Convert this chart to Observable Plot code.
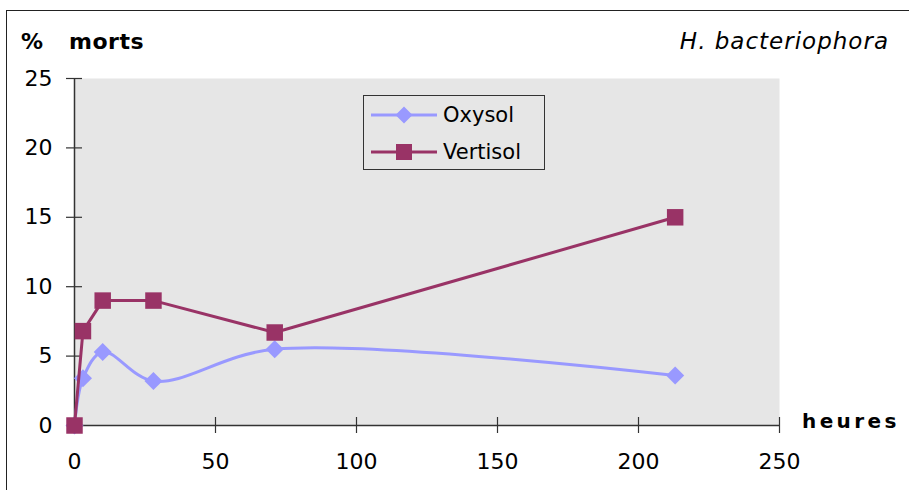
<!DOCTYPE html>
<html>
<head>
<meta charset="utf-8">
<script src="https://cdn.jsdelivr.net/npm/d3@7"></script>
<script src="https://cdn.jsdelivr.net/npm/@observablehq/plot@0.6"></script>
<style>
  html, body { margin: 0; padding: 0; background: #fff; }
  #wrap { position: relative; width: 909px; height: 490px; overflow: hidden; font-family: "DejaVu Sans", sans-serif; color: #000; }
  #border { position: absolute; left: 6px; top: 10px; width: 920px; height: 500px; border-top: 1.5px solid #222; border-left: 1.5px solid #222; box-sizing: border-box; }
  #chart { position: absolute; left: 0; top: 0; }
  .lbl { position: absolute; white-space: pre; line-height: 1; }
  #legend { position: absolute; left: 363px; top: 95px; width: 182px; height: 75px; border: 1px solid #333; box-sizing: border-box; }
  .row { position: absolute; left: 7px; height: 24px; display: flex; align-items: center; font-size: 21px; }
  .row svg { margin-right: 6px; }
</style>
</head>
<body>
<div id="wrap">
  <div id="border"></div>
  <div id="chart"></div>
  <div class="lbl" style="left:21px; top:31px; font-size:22px; font-weight:bold;">%</div>
  <div class="lbl" style="left:69px; top:31px; font-size:22px; font-weight:bold; letter-spacing:0.5px;">morts</div>
  <div class="lbl" style="right:20px; top:30px; font-size:23px; font-style:italic; letter-spacing:1px;">H. bacteriophora</div>
  <div class="lbl" style="left:802px; top:411px; font-size:20px; font-weight:bold; letter-spacing:3.4px;">heures</div>
  <div id="legend"></div>
</div>
<script>
const heures = [0, 3, 10, 28, 71, 213];
const oxysol = [0, 3.4, 5.3, 3.2, 5.5, 3.6];
const vertisol = [0, 6.8, 9, 9, 6.7, 15];
const xTicks = [0, 50, 100, 150, 200, 250];
const yTicks = [0, 5, 10, 15, 20, 25];
const seriesNames = ["Oxysol", "Vertisol"];
const colors = ["#9999ff", "#993366"];

const oxyData = heures.map((h, i) => ({h, v: oxysol[i]}));
const vertData = heures.map((h, i) => ({h, v: vertisol[i]}));

const diamond = {
  draw(ctx, size) {
    const h = Math.sqrt(size / Math.PI) * 0.95;
    ctx.moveTo(0, -h); ctx.lineTo(h, 0); ctx.lineTo(0, h); ctx.lineTo(-h, 0); ctx.closePath();
  }
};

const W = 909, H = 490, mL = 74, mR = 130, mT = 78, mB = 65;
const pw = W - mL - mR, ph = H - mT - mB;

const chart = Plot.plot({
  width: W, height: H,
  marginLeft: mL, marginRight: mR, marginTop: mT, marginBottom: mB,
  style: {fontSize: "22px", fontFamily: "DejaVu Sans, sans-serif", background: "transparent", color: "#000", overflow: "visible"},
  x: {domain: [0, 250], ticks: xTicks},
  y: {domain: [0, 25], ticks: yTicks},
  marks: [
    Plot.frame({fill: "#e6e6e6", stroke: null}),
    Plot.axisX({ticks: xTicks, tickSize: 0, tickPadding: 28, label: null}),
    Plot.axisY({ticks: yTicks, tickSize: 0, tickPadding: 22, label: null}),
    Plot.tickY(yTicks, {y: d => d, insetLeft: -8, insetRight: pw - 8, stroke: "#333", strokeWidth: 1.2}),
    Plot.tickX(xTicks, {x: d => d, insetTop: ph - 8, insetBottom: -8, stroke: "#333", strokeWidth: 1.2}),
    Plot.ruleX([0], {stroke: "#333", strokeWidth: 1.5}),
    Plot.ruleY([0], {stroke: "#333", strokeWidth: 1.5}),
    Plot.line(oxyData, {x: "h", y: "v", stroke: colors[0], strokeWidth: 3, curve: "catmull-rom"}),
    Plot.dot(oxyData, {x: "h", y: "v", fill: colors[0], symbol: diamond, r: 9.5}),
    Plot.line(vertData, {x: "h", y: "v", stroke: colors[1], strokeWidth: 3}),
    Plot.dot(vertData, {x: "h", y: "v", fill: colors[1], symbol: "square", r: 9.3})
  ]
});
document.getElementById("chart").appendChild(chart);

// legend
const legend = document.getElementById("legend");
seriesNames.forEach((name, i) => {
  const row = document.createElement("div");
  row.className = "row";
  row.style.top = (i === 0 ? 7 : 44) + "px";
  const marker = i === 0
    ? `<path d="M33,1.5 L41.5,10 L33,18.5 L24.5,10 Z" fill="${colors[i]}"/>`
    : `<rect x="25" y="2" width="16" height="16" fill="${colors[i]}"/>`;
  row.innerHTML = `<svg width="66" height="20"><line x1="0" y1="10" x2="66" y2="10" stroke="${colors[i]}" stroke-width="3"/>${marker}</svg><span>${name}</span>`;
  legend.appendChild(row);
});
</script>
</body>
</html>
